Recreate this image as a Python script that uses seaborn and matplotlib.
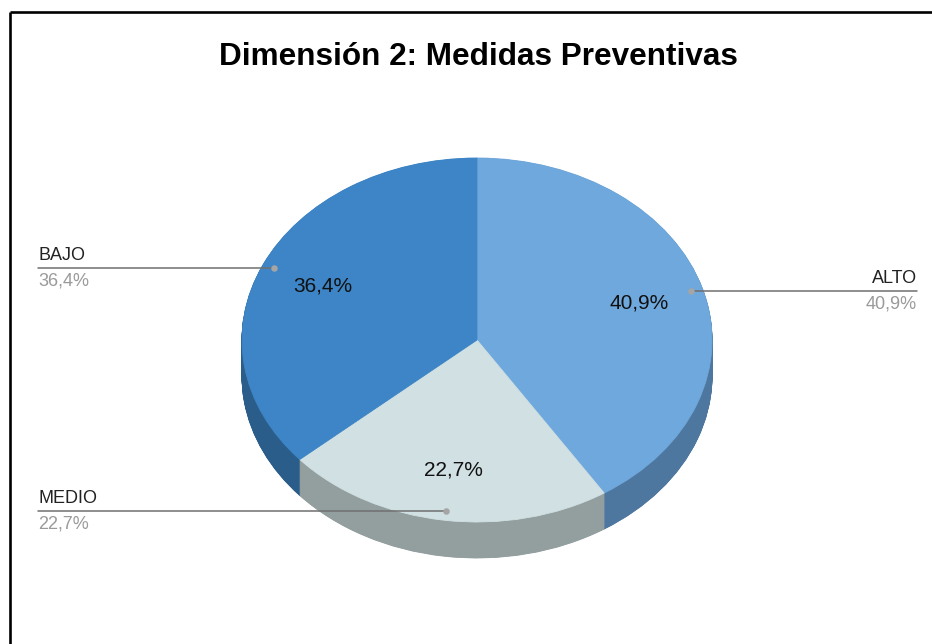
import numpy as np
import matplotlib
matplotlib.use("Agg")
import matplotlib.pyplot as plt
import seaborn as sns

# Data
categories = ["ALTO", "MEDIO", "BAJO"]
percentages = [40.9, 22.7, 36.4]
top_colors = ["#6fa8dc", "#d0e0e3", "#3d85c6"]
side_colors = ["#4e77a0", "#939e9f", "#2b5d8b"]
title = "Dimensión 2: Medidas Preventivas"

sns.set_theme(style="white")
plt.rcParams["font.family"] = ["Liberation Sans", "DejaVu Sans"]

W, H = 932, 644
fig = plt.figure(figsize=(W / 100, H / 100), dpi=100)
fig.patch.set_facecolor("white")

# Pie placement in pixels: centre, horizontal / vertical radii and rim depth
cx, cy = 477, 340
rx, ry = 235, 182
depth = 36
xl = (-1.1, 1.1)
yl = (-1.35, 1.1)
left_px, right_px = cx + xl[0] * rx, cx + xl[1] * rx
top_px, bot_px = cy - yl[1] * ry, cy - yl[0] * ry
ax = fig.add_axes([left_px / W, 1 - bot_px / H,
                   (right_px - left_px) / W, (bot_px - top_px) / H])
ax.set_facecolor("none")


def fmt_pct(p):
    return f"{p:.1f}%".replace(".", ",")


# Rim of the tilted pie: stacked copies shifted downward in the darker colours
d = depth / ry
for t in np.linspace(d, 0, 70)[:-1]:
    wedges, _ = ax.pie(percentages, colors=side_colors, startangle=90,
                       counterclock=False, center=(0, -t), radius=1,
                       frame=True)
    for w in wedges:
        w.set_edgecolor(w.get_facecolor())
        w.set_linewidth(0.6)

# Top face with percentage labels
wedges, _, autotexts = ax.pie(percentages, colors=top_colors, startangle=90,
                              counterclock=False, center=(0, 0), radius=1,
                              autopct=fmt_pct, pctdistance=0.72,
                              textprops=dict(fontsize=15, color="#111111"),
                              frame=True)
for w in wedges:
    w.set_edgecolor(w.get_facecolor())
    w.set_linewidth(0.6)

ax.set_aspect("auto")
ax.set_xlim(*xl)
ax.set_ylim(*yl)
ax.axis("off")

# Overlay in pixel coordinates for title, frame and callouts
ov = fig.add_axes([0, 0, 1, 1], zorder=5)
ov.set_xlim(0, W)
ov.set_ylim(H, 0)
ov.axis("off")
ov.set_facecolor("none")

ov.plot([9.5, W], [11.5, 11.5], color="black", lw=1.9, solid_capstyle="butt")
ov.plot([9.5, 9.5], [11.5, H], color="black", lw=1.9, solid_capstyle="butt")

ov.text(478, 65, title, ha="center", va="baseline", fontsize=22.7,
        fontweight="bold", color="black")

# Callouts: a dot near the rim of each slice, a horizontal leader and two labels
to_px = ax.transData + ov.transData.inverted()
cum = np.cumsum([0] + percentages)
for name, p, a0, a1 in zip(categories, percentages, cum[:-1], cum[1:]):
    mid = np.deg2rad((a0 + a1) / 2 * 3.6)
    dot = to_px.transform((0.95 * np.sin(mid), 0.95 * np.cos(mid)))
    x_dot, y_dot = dot
    if x_dot > cx:
        x_end, ha = 917, "right"
    else:
        x_end, ha = 38, "left"
    ov.plot([x_end, x_dot], [y_dot, y_dot], color="#6f6f6f", lw=1.1)
    ov.scatter([x_dot], [y_dot], s=22, color="#a5a5a5", zorder=6, linewidths=0)
    ov.text(x_end, y_dot - 8, name, ha=ha, va="baseline", fontsize=13,
            color="#222222")
    ov.text(x_end, y_dot + 17, fmt_pct(p), ha=ha, va="baseline", fontsize=13,
            color="#9a9a9a")

fig.savefig("out.png", dpi=100)
